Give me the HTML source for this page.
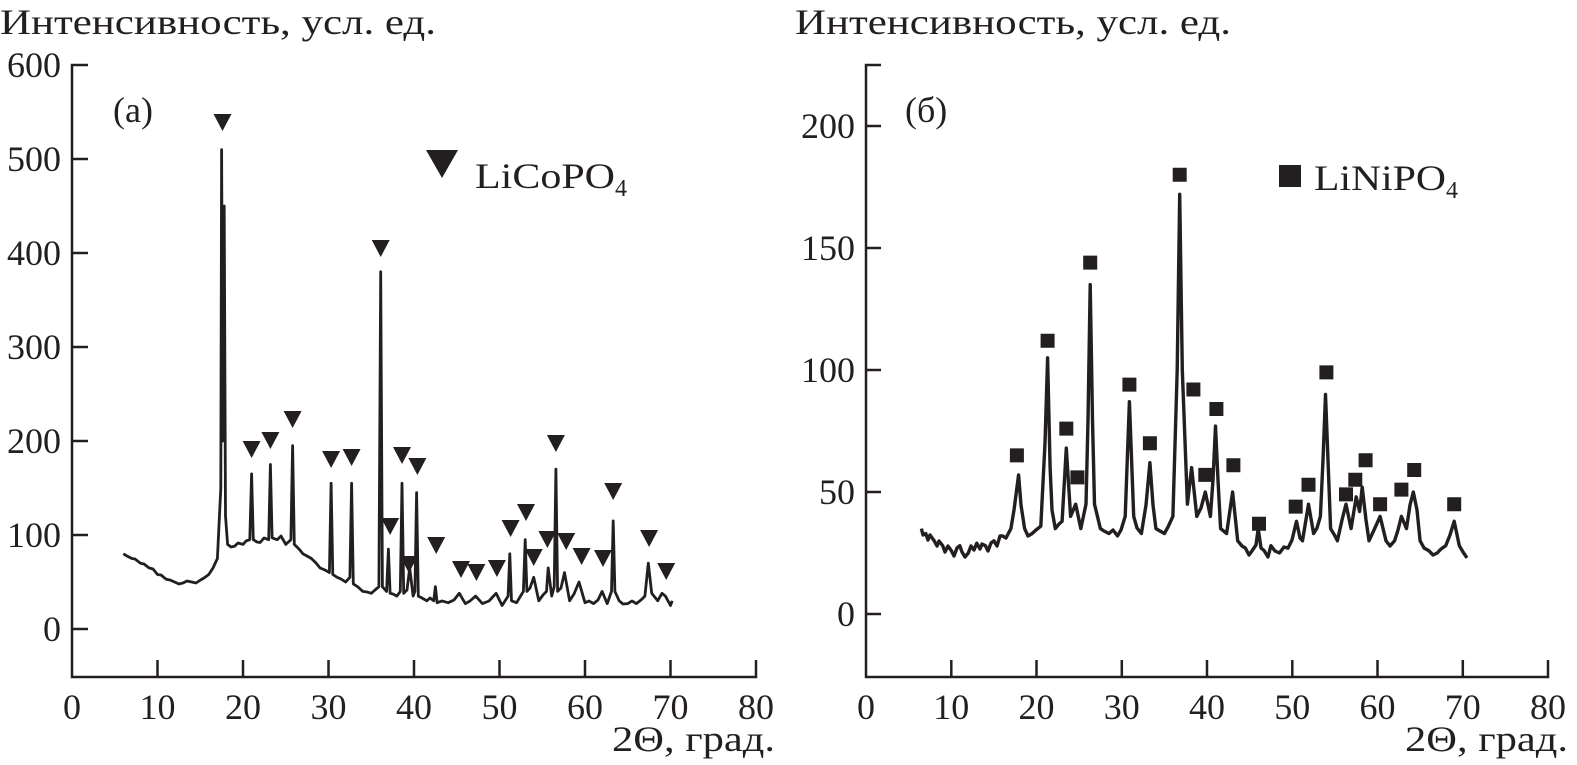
<!DOCTYPE html>
<html><head><meta charset="utf-8"><style>
body{margin:0;background:#fff}
svg{display:block}
text{font-family:"Liberation Serif",serif;fill:#231f20;font-size:36px}
</style></head><body>
<svg width="1577" height="765" xmlns="http://www.w3.org/2000/svg">
<text x="0" y="34" textLength="436" lengthAdjust="spacingAndGlyphs">Интенсивность, усл. ед.</text>
<text x="795" y="34" textLength="436" lengthAdjust="spacingAndGlyphs">Интенсивность, усл. ед.</text>
<g stroke="#231f20" stroke-width="2.5" fill="none">
<path d="M88,65 H72 V677 H756 V660"/>
<path d="M881,65 H866 V677 H1548 V660"/>
<path d="M72,159H88M72,253H88M72,347H88M72,441H88M72,535H88M72,629H88"/>
<path d="M157.5,677V660M243,677V660M328.5,677V660M414,677V660M499.5,677V660M585,677V660M670.5,677V660"/>
<path d="M866,126H881M866,248H881M866,370H881M866,492H881M866,614H881"/>
<path d="M951.3,677V660M1036.5,677V660M1121.8,677V660M1207,677V660M1292.3,677V660M1377.5,677V660M1462.8,677V660"/>
</g>
<g text-anchor="end">
<text x="61" y="77">600</text><text x="61" y="171">500</text><text x="61" y="265">400</text><text x="61" y="359">300</text><text x="61" y="453">200</text><text x="61" y="547">100</text><text x="61" y="641">0</text>
<text x="855" y="138">200</text><text x="855" y="260">150</text><text x="855" y="382">100</text><text x="855" y="504">50</text><text x="855" y="626">0</text>
</g>
<g text-anchor="middle">
<text x="72" y="719">0</text><text x="157.5" y="719">10</text><text x="243" y="719">20</text><text x="328.5" y="719">30</text><text x="414" y="719">40</text><text x="499.5" y="719">50</text><text x="585" y="719">60</text><text x="670.5" y="719">70</text><text x="756" y="719">80</text>
<text x="866" y="719">0</text><text x="951.3" y="719">10</text><text x="1036.5" y="719">20</text><text x="1121.8" y="719">30</text><text x="1207" y="719">40</text><text x="1292.3" y="719">50</text><text x="1377.5" y="719">60</text><text x="1462.8" y="719">70</text><text x="1548" y="719">80</text>
</g>
<text x="612" y="751" textLength="163" lengthAdjust="spacingAndGlyphs">2Θ, град.</text>
<text x="1405" y="751" textLength="163" lengthAdjust="spacingAndGlyphs">2Θ, град.</text>
<text x="113" y="122">(a)</text>
<text x="905" y="122">(б)</text>
<path d="M426,150 L458,150 L442,178 Z" fill="#231f20"/>
<text x="475" y="188"><tspan textLength="140" lengthAdjust="spacingAndGlyphs">LiCoPO</tspan><tspan font-size="24" dy="8">4</tspan></text>
<rect x="1279" y="165" width="22" height="22" fill="#231f20"/>
<text x="1314" y="190"><tspan textLength="132" lengthAdjust="spacingAndGlyphs">LiNiPO</tspan><tspan font-size="24" dy="8">4</tspan></text>
<path fill="none" stroke="#231f20" stroke-width="2.8" stroke-linejoin="round" d="M123.3,553.8L127,556L131.9,558.5L135,559L140.4,563.2L144,564L149,567.9L153,569L157.5,574.5L161,575L166.1,579.2L170,580L174.6,582L179,584L183.2,582.9L187,581L191.7,582L196,583L200.3,580.1L204,578L208.8,574.5L213,568L217.4,558.5L220.8,488L221.6,149.6L222.9,441L224.2,206L225.5,516L227.6,544.4L231,547L234.5,546.3L238,543L243,544.4L246,541L249.8,539.7L251.6,473.9L253.3,539.7L257,542L260.1,542.5L264,538L268.7,539.7L270.4,464.5L272.1,537.8L277.2,539.7L281,536L285.8,544.4L290.9,539.7L292.6,445.7L294.3,544.4L299,549L302.9,553.8L307,556L311.4,558.5L316,563L320,567.9L325,570L329.4,572.6L331.1,483.3L332.8,574.5L337.1,577.3L341,579L345.6,582L349.9,577.3L351.6,483.3L353.3,583.9L358,587L362.7,591.4L367,592L371.3,593.3L375,590L378.9,586.7L380.7,271.8L382.4,586.7L386.6,591.4L388.4,549.1L390.1,593.3L393,594L396.9,596.1L400.3,591.4L402,483.3L403.7,593.3L407,590L409.7,567.9L413.1,596.1L414.9,591.4L416.6,492.7L418.3,596.1L422,598L426.8,600.8L430,598L433.7,600.8L435.4,586.7L437.1,602.7L442,601L448.2,602.7L454,600L459.3,593.3L465.3,603.6L470,601L475.6,596.1L482.4,603.6L489,601L496.1,593.3L502.1,605.5L508.1,596.1L509.8,553.8L511.5,600.8L516.6,602.7L520,597L523.4,591.4L525.2,539.7L526.9,591.4L530,588L533.7,577.3L538.8,600.8L543,595L546.5,591.4L548.2,567.9L551.7,596.1L554.2,586.7L555.9,469.2L557.6,591.4L561,588L564.5,572.6L569.6,600.8L574,594L579,582L585,602.7L589,601L593.6,603.6L598,600L602.1,591.4L607.2,603.6L611.5,591.4L613.2,520.9L614.9,591.4L619.2,600.8L623,604L627.8,603.6L632,601L636.3,603.6L641,600L644.9,596.1L648.3,563.2L651.7,593.3L657.7,600.8L662,593.3L665.4,596.1L670.5,605.5L672.2,600.8"/>
<path fill="none" stroke="#231f20" stroke-width="3.4" stroke-linejoin="round" d="M921.4,528.6L923,535L925.7,533.5L928,540L930,535L934.2,540.8L937,546L939,541L942.7,545.7L945,552L948,546L951.3,550.6L954,556L957,548L959.8,545.7L962,552L965,557L968.3,553L971,546L974,550L976.8,543.2L980,549L982,544L985.4,545.7L988,551L991,543L993.9,540.8L997,546L1000,536L1002.4,535.9L1006,538L1010.9,528.6L1014,510L1018.6,474.9L1021,505L1024.6,528.6L1028,536L1032.2,533.5L1036,530L1040.8,526.2L1045,443.2L1047.6,357.8L1050.1,467.6L1052,510L1055.3,528.6L1059,524L1062.1,521.3L1066.3,448.1L1070.6,516.4L1075.7,504.2L1080.8,528.6L1086,504.2L1088,420L1090.2,284.6L1092.5,420L1094.5,504.2L1100.4,528.6L1104,531L1109,533.5L1113,530L1117.5,535.9L1121,530L1125.2,516.4L1129.4,401.7L1133.7,516.4L1137,528L1141.4,533.5L1146,505L1149.9,462.7L1153,505L1155.9,528.6L1160,531L1164.4,533.5L1168,527L1172.9,516.4L1177.2,370L1179.7,194.3L1182.3,370L1187.4,504.2L1191.6,467.6L1196.8,516.4L1201,508L1205.3,492L1210.4,516.4L1213,480L1215.5,426.1L1218,480L1220.6,528.6L1226.6,533.5L1232.6,492L1237.7,540.8L1242,546L1245.4,548.1L1249,555L1252.2,550.6L1256,545L1258.2,528.6L1261,548L1264.1,550.6L1268,557L1270.9,545.7L1275,551L1279.5,553L1284,547L1288,548.1L1292,540L1296.5,521.3L1300,538L1302.5,540.8L1308.5,504.2L1313.6,533.5L1317,528L1320.4,516.4L1323,460L1325.5,394.4L1328,460L1330.6,528.6L1335,536L1337.4,540.8L1342,520L1346,504.2L1351.1,528.6L1356.2,496.9L1359.6,511.5L1362.2,487.1L1366,520L1369,540.8L1374,530L1380.1,516.4L1386,540.8L1390,546L1394.6,540.8L1398,530L1401.4,516.4L1406.5,528.6L1410,505L1413.3,492L1417,510L1420.1,540.8L1424,548L1428.7,550.6L1433,555L1437.2,553L1441,549L1445.7,545.7L1450,535L1454.2,521.3L1459.3,545.7L1463,552L1467,557.9"/>
<g fill="#231f20">
<path d="M213.5,114h18l-9,17zM242.6,441h18l-9,17zM261.4,432h18l-9,17zM283.6,411h18l-9,17zM322.1,451h18l-9,17zM342.6,449h18l-9,17zM371.7,240h18l-9,17zM381.1,518h18l-9,17zM393,447h18l-9,17zM399.9,556h18l-9,17zM408.4,458h18l-9,17zM427.2,537h18l-9,17zM452,561h18l-9,17zM467.4,564h18l-9,17zM487.9,560h18l-9,17zM501.6,520h18l-9,17zM517,504h18l-9,17zM524.7,549h18l-9,17zM538.4,531h18l-9,17zM546.9,435h18l-9,17zM557.2,533h18l-9,17zM572.6,548h18l-9,17zM594,550h18l-9,17zM604.2,483h18l-9,17zM640.1,530h18l-9,17zM657.2,563h18l-9,17z"/>
<path d="M1009.9,448.4h14v14h-14zM1040.6,333.7h14v14h-14zM1059.3,421.6h14v14h-14zM1070.4,470.4h14v14h-14zM1083.2,255.6h14v14h-14zM1122.4,377.6h14v14h-14zM1142.9,436.2h14v14h-14zM1172.7,167.8h14v14h-14zM1186.4,382.5h14v14h-14zM1198.3,467.9h14v14h-14zM1209.4,402h14v14h-14zM1226.4,458.2h14v14h-14zM1252,516.7h14v14h-14zM1288.7,499.6h14v14h-14zM1301.5,477.7h14v14h-14zM1319.4,365.4h14v14h-14zM1339,487.4h14v14h-14zM1348.3,472.8h14v14h-14zM1358.6,453.3h14v14h-14zM1373.1,497.2h14v14h-14zM1394.4,482.6h14v14h-14zM1407.2,463h14v14h-14zM1447.2,497.2h14v14h-14z"/>
</g>
</svg>
</body></html>
